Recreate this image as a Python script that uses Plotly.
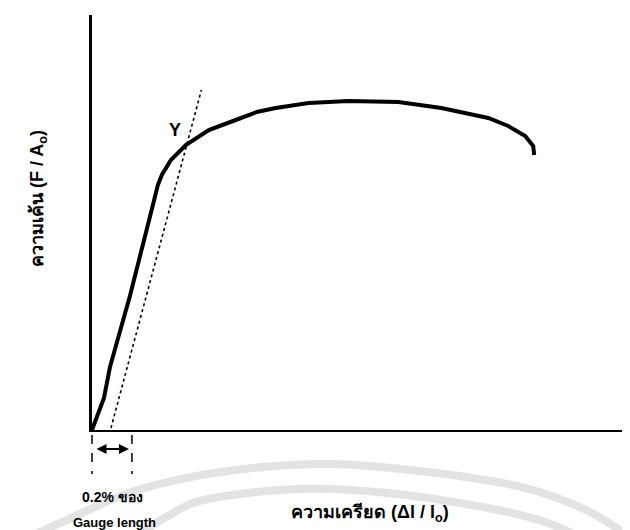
import plotly.graph_objects as go

# Stress-strain curve (arbitrary units)
strain = [0.0, 0.6, 0.9, 1.9, 3.0, 3.3, 3.5, 3.8, 3.95, 4.7, 5.85, 7.2, 8.25, 9.2,
          10.85, 12.85, 15.35, 17.5, 19.85, 20.85, 21.7, 22.1, 22.15]
stress = [0, 32, 63, 134, 221, 245, 255, 265, 270, 285, 300, 310, 318, 322,
          327, 329, 328, 322, 312, 304, 294, 284, 275]

# 0.2% offset line
offset_strain = [0.95, 5.48]
offset_stress = [2, 340]

# gauge offset marks
gauge_marks = [0.0, 2.0]
yield_point = (4.18, 300)

x_range = [0, 27.35]
y_range = [0, 415]

W, H = 630, 530
ML, MR, MT, MB = 84, 0, 7, 108
PW, PH = W - ML - MR, H - MT - MB


def px(xp):
    return (xp - ML) / PW


def py(yp):
    return (H - MB - yp) / PH


def smooth_path(pts):
    """Catmull-Rom through pixel points -> SVG cubic path in paper coords."""
    P = [(px(x), py(y)) for x, y in pts]
    d = f"M {P[0][0]:.4f},{P[0][1]:.4f}"
    for i in range(len(P) - 1):
        p0 = P[i - 1] if i > 0 else P[i]
        p1, p2 = P[i], P[i + 1]
        p3 = P[i + 2] if i + 2 < len(P) else P[i + 1]
        c1 = (p1[0] + (p2[0] - p0[0]) / 6, p1[1] + (p2[1] - p0[1]) / 6)
        c2 = (p2[0] - (p3[0] - p1[0]) / 6, p2[1] - (p3[1] - p1[1]) / 6)
        d += f" C {c1[0]:.4f},{c1[1]:.4f} {c2[0]:.4f},{c2[1]:.4f} {p2[0]:.4f},{p2[1]:.4f}"
    return d


fig = go.Figure()
fig.add_trace(go.Scatter(x=strain, y=stress, mode="lines",
                         line=dict(color="black", width=4), hoverinfo="skip"))
fig.add_trace(go.Scatter(x=offset_strain, y=offset_stress, mode="lines",
                         line=dict(color="black", width=1.6, dash="dot"), hoverinfo="skip"))

shapes = []
# faint watermark arcs of the scanned page
wm_outer = [(10, 535), (52, 515), (130, 482), (220, 463), (321, 456), (420, 464),
            (513, 479), (580, 503), (635, 538)]
wm_inner = [(110, 540), (160, 508), (200, 491), (290, 481), (380, 485), (480, 500),
            (540, 515), (590, 538)]
for pts in (wm_outer, wm_inner):
    shapes.append(dict(type="path", xref="paper", yref="paper", path=smooth_path(pts),
                       line=dict(color="#e3e3e3", width=8), layer="below"))

# dashed gauge lines
for g in gauge_marks:
    xd = (g - x_range[0]) / (x_range[1] - x_range[0])
    shapes.append(dict(type="line", xref="x domain", yref="paper",
                       x0=xd, x1=xd, y0=py(427), y1=py(466),
                       line=dict(color="black", width=1.5, dash="dash")))

# double arrow between gauge marks (length in pixels from the x scale)
arrow_px = (gauge_marks[1] - gauge_marks[0] - 0.3) / (x_range[1] - x_range[0]) * PW

FONT = "Liberation Sans, Arial, sans-serif"
annotations = [
    dict(x=yield_point[0], y=yield_point[1], xref="x", yref="y", text="<b>Y</b>",
         xanchor="center", yanchor="middle",
         showarrow=False, font=dict(family=FONT, size=18, color="black")),
    dict(x=gauge_marks[1] - 0.15, y=py(441), ax=-arrow_px, ay=0,
         xref="x", yref="paper", axref="pixel", ayref="pixel", text="",
         showarrow=True, arrowhead=2, arrowside="end+start", arrowsize=1,
         arrowwidth=2, arrowcolor="black"),
    dict(x=px(362), y=py(505), xref="paper", yref="paper",
         xanchor="center", yanchor="middle",
         text="<b>ความเครียด (Δl / l<sub>o</sub>)</b>", showarrow=False,
         font=dict(family=FONT, size=18, color="black")),
    dict(x=px(30), y=py(191), xref="paper", yref="paper", textangle=-90,
         xanchor="center", yanchor="middle",
         text="<b>ความเค้น (F / A<sub>o</sub>)</b>", showarrow=False,
         font=dict(family=FONT, size=18, color="black")),
    dict(x=px(104), y=py(489), xref="paper", yref="paper",
         xanchor="center", yanchor="middle",
         text="<b>0.2% ของ</b>", showarrow=False,
         font=dict(family=FONT, size=14, color="black")),
    dict(x=px(106), y=py(514), xref="paper", yref="paper",
         xanchor="center", yanchor="middle",
         text="<b>Gauge length</b>", showarrow=False,
         font=dict(family=FONT, size=13, color="black")),
]

fig.update_layout(
    width=W, height=H,
    margin=dict(l=ML, r=MR, t=MT, b=MB),
    paper_bgcolor="white", plot_bgcolor="white",
    showlegend=False,
    shapes=shapes, annotations=annotations,
    xaxis=dict(range=x_range, showgrid=False, zeroline=False, showticklabels=False,
               ticks="", showline=True, linecolor="black", linewidth=2),
    yaxis=dict(range=y_range, showgrid=False, zeroline=False, showticklabels=False,
               ticks="", showline=True, linecolor="black", linewidth=2.5),
)

fig.write_html("out.html")
